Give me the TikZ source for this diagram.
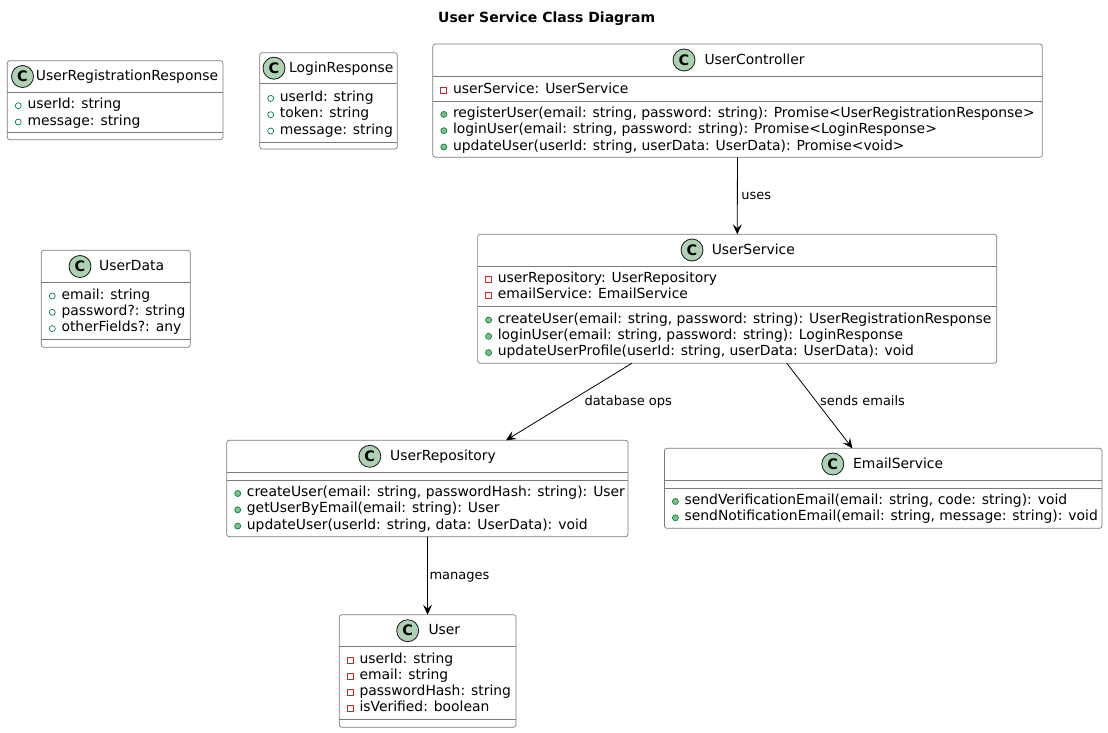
\documentclass[tikz,border=0pt]{standalone}
\usepackage{fontspec}
\setmainfont{DejaVu Sans}
\usepackage{tikz}
\usetikzlibrary{arrows.meta,fit,positioning}

\definecolor{boxgray}{HTML}{7A7A7A}
\definecolor{iconfill}{HTML}{ADD1B2}
\definecolor{iconline}{HTML}{181818}
\definecolor{pubgreen}{HTML}{038048}
\definecolor{pubfill}{HTML}{84BE84}
\definecolor{privred}{HTML}{C82930}

\tikzset{
  classbox/.style={draw=boxgray, line width=0.7pt, rounded corners=2.5pt, fill=white, inner sep=0pt, outer sep=0pt},
  divider/.style={draw=boxgray, line width=0.7pt},
  classicon/.style={circle, draw=iconline, fill=iconfill, line width=0.8pt, minimum size=22pt, inner sep=0pt, font=\fontsize{14.5}{15}\selectfont\bfseries},
  classname/.style={anchor=west, inner sep=0pt, font=\fontsize{13.9}{16}\selectfont, text height=10.5pt, text depth=3.3pt},
  member/.style={anchor=west, inner sep=0pt, font=\fontsize{13.9}{16}\selectfont, text height=10.5pt, text depth=3.3pt},
  pubf/.style={circle, draw=pubgreen, line width=0.7pt, minimum size=6pt, inner sep=0pt},
  pubm/.style={pubf, fill=pubfill},
  privf/.style={rectangle, draw=privred, line width=0.7pt, minimum size=6pt, inner sep=0pt},
  assoc/.style={-{Stealth[length=10pt,width=9pt,inset=4pt]}, line width=0.8pt},
  edgelabel/.style={anchor=west, inner sep=0pt, font=\fontsize{13}{15}\selectfont, text height=9.8pt, text depth=3pt}
}

% one line per member: prefix, box left, first line y, marker style, list
\newcommand{\members}[5]{%
  \foreach \txt [count=\i] in {#5} {
    \node[member] (#1\i) at ({#2+20}, {#3+1+16.3*(\i-1)}) {\txt};
    \node[#4] (#1v\i) at ({#2+11}, {#3+1.5+16.3*(\i-1)}) {};
  }}
\newcommand{\divline}[2]{\draw[divider] (#1.west |- 0,#2) -- (#1.east |- 0,#2);}

\begin{document}
\begin{tikzpicture}[x=1pt, y=-1pt]
\useasboundingbox (0,0) rectangle (1108,733);
\node[font=\fontsize{14}{16}\selectfont\bfseries] (title) at (546.7,18.3) {User Service Class Diagram};

% UserRegistrationResponse
\node[classbox, fit={(7.3,60.7) (223,139.7)}] (urr) {};
\node[classicon] (urrC) at (22.5,76.5) {C};
\node[classname] (urrN) at (35.7,77) {UserRegistrationResponse};
\divline{urr}{92.3}
\divline{urr}{132.3}
\members{urrA}{7.3}{104.2}{pubf}{{userId: string},{message: string}}

% LoginResponse
\node[classbox, fit={(259.7,52.7) (397.3,149)}] (lr) {};
\node[classicon] (lrC) at (274,68.2) {C};
\node[classname] (lrN) at (289,68.7) {LoginResponse};
\divline{lr}{83.7}
\divline{lr}{142.7}
\members{lrA}{259.7}{96.9}{pubf}{{userId: string},{token: string},{message: string}}

% UserData
\node[classbox, fit={(41.3,250.3) (190.3,347.3)}] (udata) {};
\node[classicon] (udataC) at (80,266.5) {C};
\node[classname] (udataN) at (99,267) {UserData};
\divline{udata}{282.7}
\divline{udata}{339}
\members{udataA}{41.3}{294.5}{pubf}{{email: string},{password?: string},{otherFields?: any}}

% UserController
\node[classbox, fit={(432.8,44) (1042.3,157.3)}] (ctl) {};
\node[classicon] (ctlC) at (684,60) {C};
\node[classname] (ctlN) at (704.3,60.5) {UserController};
\divline{ctl}{76}
\divline{ctl}{101}
\members{ctlA}{432.8}{88.7}{privf}{{userService: UserService}}
\members{ctlM}{432.8}{112.9}{pubm}{{registerUser(email: string, password: string): Promise<UserRegistrationResponse>},{loginUser(email: string, password: string): Promise<LoginResponse>},{updateUser(userId: string, userData: UserData): Promise<void>}}

% UserService
\node[classbox, fit={(477.6,234.3) (996.7,363.3)}] (svc) {};
\node[classicon] (svcC) at (692,250) {C};
\node[classname] (svcN) at (711.6,250.5) {UserService};
\divline{svc}{266}
\divline{svc}{306.3}
\members{svcA}{477.6}{278}{privf}{{userRepository: UserRepository},{emailService: EmailService}}
\members{svcM}{477.6}{318.5}{pubm}{{createUser(email: string, password: string): UserRegistrationResponse},{loginUser(email: string, password: string): LoginResponse},{updateUserProfile(userId: string, userData: UserData): void}}

% UserRepository
\node[classbox, fit={(226.7,440.3) (628,536.7)}] (repo) {};
\node[classicon] (repoC) at (369.8,456.3) {C};
\node[classname] (repoN) at (390,456.8) {UserRepository};
\divline{repo}{472.3}
\divline{repo}{480}
\members{repoM}{226.7}{492}{pubm}{{createUser(email: string, passwordHash: string): User},{getUserByEmail(email: string): User},{updateUser(userId: string, data: UserData): void}}

% EmailService
\node[classbox, fit={(664.4,448.3) (1102,528.3)}] (mail) {};
\node[classicon] (mailC) at (832.8,464) {C};
\node[classname] (mailN) at (853,464.5) {EmailService};
\divline{mail}{480}
\divline{mail}{488}
\members{mailM}{664.4}{500}{pubm}{{sendVerificationEmail(email: string, code: string): void},{sendNotificationEmail(email: string, message: string): void}}

% User
\node[classbox, fit={(339.3,614.7) (516,727.3)}] (usr) {};
\node[classicon] (usrC) at (407.7,630.7) {C};
\node[classname] (usrN) at (428.3,631.2) {User};
\divline{usr}{646.7}
\divline{usr}{719}
\members{usrA}{339.3}{658.4}{privf}{{userId: string},{email: string},{passwordHash: string},{isVerified: boolean}}

% associations
\draw[assoc] (ctl) -- (svc);
\draw[assoc] (svc) -- (repo);
\draw[assoc] (svc) -- (mail);
\draw[assoc] (repo) -- (usr);
\node[edgelabel] (lblUses) at (741.2,196.2) {uses};
\node[edgelabel] (lblDb) at (584.3,402.2) {database ops};
\node[edgelabel] (lblMail) at (820,402.2) {sends emails};
\node[edgelabel] (lblManages) at (429.3,576.2) {manages};
\end{tikzpicture}
\end{document}
